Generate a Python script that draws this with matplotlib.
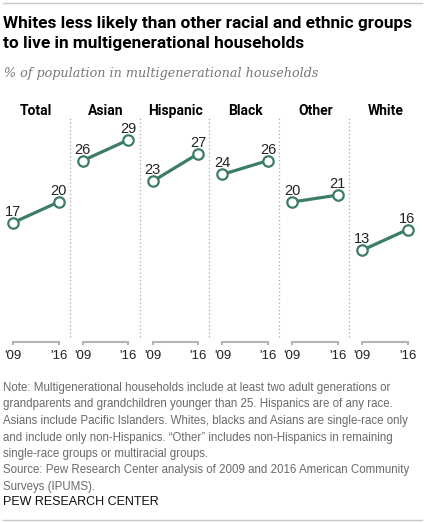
import matplotlib.pyplot as plt
from matplotlib.lines import Line2D

groups = ["Total", "Asian", "Hispanic", "Black", "Other", "White"]
years = [2009, 2016]
year_labels = ["'09", "'16"]
share_2009 = [17, 26, 23, 24, 20, 13]
share_2016 = [20, 29, 27, 26, 21, 16]

title = "Whites less likely than other racial and ethnic groups\nto live in multigenerational households"
subtitle = "% of population in multigenerational households"
note = ("Note: Multigenerational households include at least two adult generations or\n"
        "grandparents and grandchildren younger than 25. Hispanics are of any race.\n"
        "Asians include Pacific Islanders. Whites, blacks and Asians are single-race only\n"
        "and include only non-Hispanics. \u201cOther\u201d includes non-Hispanics in remaining\n"
        "single-race groups or multiracial groups.\n"
        "Source: Pew Research Center analysis of 2009 and 2016 American Community\n"
        "Surveys (IPUMS).")

W, H = 430, 523
GREEN = "#3d7b6b"
GRAY = "#b5b5b5"

fig = plt.figure(figsize=(W / 100, H / 100), dpi=100)

# frame lines top and bottom
fig.add_artist(Line2D([3 / W, 422 / W], [1 - 3 / H, 1 - 3 / H], color="#c8c8c8", lw=1))
fig.add_artist(Line2D([3 / W, 422 / W], [1 - 520 / H, 1 - 520 / H], color="#c8c8c8", lw=1))

fig.text(3 / W, 1 - 16 / H, title, fontsize=12.4, fontweight="bold", family="Roboto",
         va="top", ha="left", linespacing=1.38)
fig.text(4 / W, 1 - 73 / H, subtitle, fontsize=9.2, style="italic", family="DejaVu Serif",
         color="#777777", va="center", ha="left")

top_px, bot_px, zero_px = 118, 346, 340
px_per_unit = 6.9
px_per_year = 6.5
panel_w = 69.8

for i, g in enumerate(groups):
    left = panel_w * i
    ax = fig.add_axes([left / W, 1 - bot_px / H, panel_w / W, (bot_px - top_px) / H])
    x0 = 2009 - 13 / px_per_year
    ax.set_xlim(x0, x0 + panel_w / px_per_year)
    ax.set_ylim(-(bot_px - zero_px) / px_per_unit, (zero_px - top_px) / px_per_unit)
    vals = [share_2009[i], share_2016[i]]
    ax.plot(years, vals, color=GREEN, lw=2.3, marker="o", ms=7.5, mfc="white",
            mec=GREEN, mew=1.6, zorder=3)
    for x, v in zip(years, vals):
        ax.text(x, v + 1.6, str(v), ha="center", va="center", fontsize=10.5,
                family="Liberation Sans", color="#222222")
    # year bracket
    ax.plot([2009, 2009, 2016, 2016], [-0.62, -0.3, -0.3, -0.62], color=GRAY, lw=1.5,
            clip_on=False, solid_joinstyle="miter")
    ax.set_xticks(years)
    ax.set_xticklabels(year_labels, fontsize=9.5, family="Liberation Sans", color="#222222")
    ax.tick_params(axis="x", length=0, pad=3)
    ax.set_yticks([])
    for s in ax.spines.values():
        s.set_visible(False)
    if i < len(groups) - 1:
        ax.axvline(ax.get_xlim()[1], ymin=0.04, ymax=1, color="#aaaaaa", lw=0.9,
                   ls=(0, (1, 2)), clip_on=False)
    ax.text(0.52, 1.03, g, transform=ax.transAxes, ha="center", va="center",
            fontsize=10, fontweight="bold", family="Roboto")
    ax.patch.set_visible(False)

fig.text(3 / W, 1 - 382 / H, note, fontsize=8.3, family="Liberation Sans", color="#6a6a6a",
         va="top", ha="left", linespacing=1.5)
fig.text(3 / W, 1 - 502 / H, "PEW RESEARCH CENTER", fontsize=9, family="Liberation Sans",
         color="#111111", va="center", ha="left")

fig.savefig("out.png", dpi=100)
